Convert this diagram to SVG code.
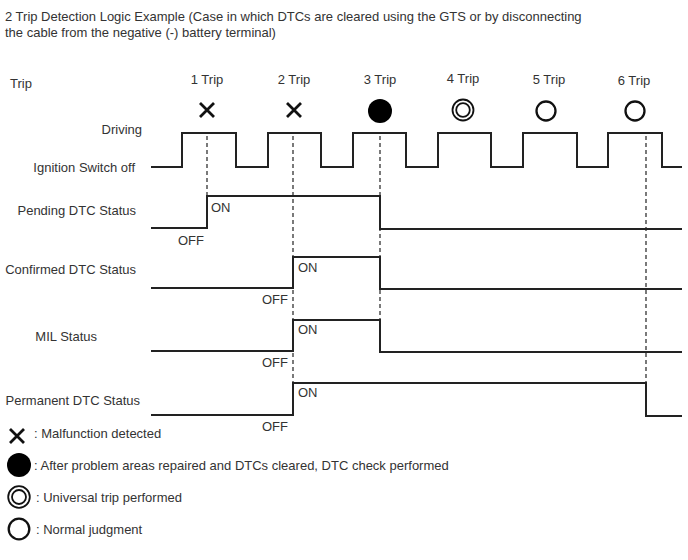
<svg xmlns="http://www.w3.org/2000/svg" width="688" height="560" viewBox="0 0 688 560">
<style>
text{font-family:"Liberation Sans",Arial,sans-serif;font-size:13px;fill:#333}
.w{fill:none;stroke:#222;stroke-width:2}
.d{fill:none;stroke:#222;stroke-width:1.2;stroke-dasharray:4 3}
.x{stroke:#111;stroke-width:2.8;fill:none}
.o{fill:none;stroke:#111;stroke-width:2.3}
.dd{fill:none;stroke:#111;stroke-width:1.8}
</style>
<rect width="688" height="560" fill="#fff"/>
<g id="title">
<text x="5" y="21">2 Trip Detection Logic Example (Case in which DTCs are cleared using the GTS or by disconnecting</text>
<text x="5" y="37">the cable from the negative (-) battery terminal)</text>
</g>
<g id="labels">
<text x="10" y="88">Trip</text>
<text x="142" y="134" text-anchor="end">Driving</text>
<text x="135" y="172" text-anchor="end">Ignition Switch off</text>
<text x="136" y="215" text-anchor="end">Pending DTC Status</text>
<text x="136" y="274" text-anchor="end">Confirmed DTC Status</text>
<text x="97" y="341" text-anchor="end">MIL Status</text>
<text x="140" y="405" text-anchor="end">Permanent DTC Status</text>
</g>
<g id="trips" text-anchor="middle">
<text x="207" y="84">1 Trip</text>
<text x="294" y="84">2 Trip</text>
<text x="380" y="84">3 Trip</text>
<text x="463" y="83">4 Trip</text>
<text x="549" y="84">5 Trip</text>
<text x="634" y="85">6 Trip</text>
</g>
<g id="symbols">
<path class="x" d="M200 103 L214 117 M214 103 L200 117"/>
<path class="x" d="M287 103 L301 117 M301 103 L287 117"/>
<circle cx="380" cy="111" r="12" fill="#000"/>
<circle class="dd" cx="463" cy="110" r="10.5"/>
<circle class="dd" cx="463" cy="110" r="6.8"/>
<circle class="o" cx="546" cy="111" r="9.5"/>
<circle class="o" cx="635" cy="111" r="9.5"/>
</g>
<g id="connectors">
<path class="d" d="M207 136 V197"/>
<path class="d" d="M293 136 V382"/>
<path class="d" d="M380 136 V352"/>
<path class="d" d="M646 136 V383"/>
</g>
<g id="ignition">
<path class="w" d="M151 167 H182 V133 H236 V167 H268 V133 H321 V167 H353 V133 H406 V167 H438 V133 H491 V167 H523 V133 H577 V167 H608 V133 H662 V167 H682"/>
</g>
<g id="pending">
<path class="w" d="M151 228 H207 V196 H380 V229 H682"/>
<text x="211" y="212">ON</text>
<text x="178" y="245">OFF</text>
</g>
<g id="confirmed">
<path class="w" d="M151 288 H293 V257 H380 V289 H682"/>
<text x="298" y="272">ON</text>
<text x="262" y="304">OFF</text>
</g>
<g id="mil">
<path class="w" d="M151 351 H293 V320 H380 V352 H682"/>
<text x="298" y="334">ON</text>
<text x="262" y="367">OFF</text>
</g>
<g id="permanent">
<path class="w" d="M151 415 H293 V383 H646 V416 H682"/>
<text x="298" y="397">ON</text>
<text x="262" y="431">OFF</text>
</g>
<g id="legend">
<path class="x" d="M10 429 L24 443 M24 429 L10 443"/>
<text x="34" y="438">: Malfunction detected</text>
<circle cx="19" cy="465" r="12" fill="#000"/>
<text x="34" y="470">: After problem areas repaired and DTCs cleared, DTC check performed</text>
<circle class="dd" cx="19" cy="497" r="10.8"/>
<circle class="dd" cx="19" cy="497" r="7"/>
<text x="36" y="502">: Universal trip performed</text>
<circle class="o" cx="19" cy="529" r="10.3"/>
<text x="36" y="534">: Normal judgment</text>
</g>
</svg>
